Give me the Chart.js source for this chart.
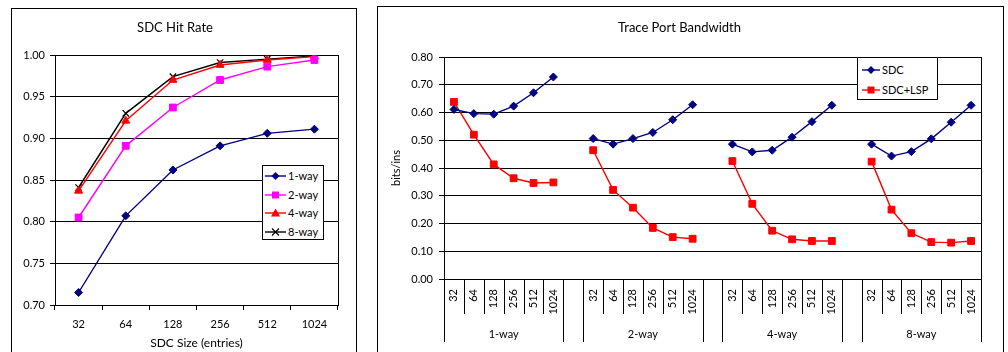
<!DOCTYPE html>
<html><head><meta charset="utf-8">
<script src="https://cdn.jsdelivr.net/npm/chart.js@4"></script>
<style>
html,body{margin:0;padding:0;background:#fff;width:1008px;height:352px;overflow:hidden;font-family:Lato,'Liberation Sans',sans-serif;}
.box{position:absolute;border:1px solid #000;box-sizing:border-box;background:#fff}
.cv{position:absolute}
.legend{position:absolute;border:1px solid #000;background:#fff;box-sizing:border-box;font-size:11px;color:#000}
.legend .row{position:absolute;display:flex;align-items:center;height:12px;white-space:nowrap;line-height:12px}
.legend svg{display:block;margin-right:2px}
</style></head>
<body>
<div class="box" style="left:11px;top:8px;width:346px;height:360px"></div>
<div class="box" style="left:377px;top:6px;width:627px;height:360px"></div>
<div class="cv" style="left:12px;top:9px;width:344px;height:343px"><canvas id="c1"></canvas></div>
<div class="cv" style="left:378px;top:7px;width:625px;height:345px"><canvas id="c2"></canvas></div>
<div id="lg1" class="legend" style="left:262px;top:165px;width:62px;height:75px"></div>
<div id="lg2" class="legend" style="left:857px;top:57px;width:81px;height:43px"></div>
<script>
// ---- data ----
const sizes = ['32','64','128','256','512','1024'];
const ways = ['1-way','2-way','4-way','8-way'];
const hitTitle = 'SDC Hit Rate';
const hit1way = [0.715,0.807,0.862,0.891,0.906,0.911];
const hit2way = [0.805,0.891,0.937,0.970,0.986,0.994];
const hit4way = [0.837,0.921,0.970,0.988,0.994,0.998];
const hit8way = [0.841,0.930,0.974,0.991,0.995,0.999];
const bwTitle = 'Trace Port Bandwidth';
const bwSeries = ['SDC','SDC+LSP'];
const sdc1way = [0.611,0.596,0.594,0.623,0.671,0.728];
const sdc2way = [0.506,0.486,0.506,0.528,0.574,0.628];
const sdc4way = [0.486,0.458,0.464,0.511,0.567,0.626];
const sdc8way = [0.486,0.443,0.459,0.505,0.565,0.626];
const lsp1way = [0.638,0.520,0.413,0.363,0.346,0.348];
const lsp2way = [0.464,0.321,0.257,0.184,0.151,0.145];
const lsp4way = [0.425,0.271,0.174,0.143,0.137,0.137];
const lsp8way = [0.423,0.250,0.165,0.133,0.131,0.137];

// ---- build grouped category data (blank slot between groups) ----
function grouped(arrs){ const out=[]; arrs.forEach((a,i)=>{ out.push(...a); if(i<arrs.length-1) out.push(null);}); return out; }
const bwLabels = grouped(ways.map(()=>sizes)).map(v=>v===null?'':v);
const sdcData = grouped([sdc1way,sdc2way,sdc4way,sdc8way]);
const lspData = grouped([lsp1way,lsp2way,lsp4way,lsp8way]);

Chart.defaults.font.family = "Lato, 'Liberation Sans', sans-serif";
Chart.defaults.font.size = 11;
Chart.defaults.color = '#000';

const frame = { id:'frame', afterDraw(chart){ const a=chart.chartArea, c=chart.ctx; c.save(); c.strokeStyle='#000'; c.lineWidth=1; const x=Math.round(a.right)+0.5; c.beginPath(); c.moveTo(x,Math.round(a.top)); c.lineTo(x,Math.round(a.bottom)); c.stroke(); c.restore(); } };

const groupAxis = { id:'groupAxis', afterDraw(chart, args, opts){
  const xs=chart.scales.x, c=chart.ctx, y0=Math.round(xs.top);
  const half=(xs.getPixelForValue(1)-xs.getPixelForValue(0))/2;
  c.save(); c.strokeStyle='#000'; c.lineWidth=1; c.fillStyle='#000';
  c.font = "11px Lato, 'Liberation Sans', sans-serif"; c.textAlign='center'; c.textBaseline='middle';
  const vline=(x,len)=>{ const px=Math.round(x)+0.5; c.beginPath(); c.moveTo(px,y0); c.lineTo(px,y0+len); c.stroke(); };
  ways.forEach((w,g)=>{
    const s=g*(sizes.length+1), e=s+sizes.length-1;
    vline(xs.getPixelForValue(s)-half, opts.longLen);
    vline(xs.getPixelForValue(e)+half, opts.longLen);
    for(let k=s;k<e;k++) vline(xs.getPixelForValue(k)+half, opts.shortLen);
    c.fillText(w,(xs.getPixelForValue(s)+xs.getPixelForValue(e))/2, y0+opts.labelY);
  });
  c.restore();
}};

const hitSets = [
  {label:'1-way',data:hit1way,color:'#000080',shape:'rectRot',r:4},
  {label:'2-way',data:hit2way,color:'#FF00FF',shape:'rect',r:4.8},
  {label:'4-way',data:hit4way,color:'#FF0000',shape:'triangle',r:4.6},
  {label:'8-way',data:hit8way,color:'#000000',shape:'crossRot',r:4.5}
];
const bwSets = [
  {label:bwSeries[0],data:sdcData,color:'#000080',shape:'rectRot',r:4},
  {label:bwSeries[1],data:lspData,color:'#FF0000',shape:'rect',r:4.8}
];
function ds(s){ return {label:s.label,data:s.data,borderColor:s.color,backgroundColor:s.color,pointBackgroundColor:s.color,pointBorderColor:s.color,pointStyle:s.shape,pointRadius:s.r,pointBorderWidth:s.shape==='crossRot'?1.2:1,borderWidth:1.4,spanGaps:false,tension:0}; }

new Chart(document.getElementById('c1'),{
  type:'line',
  data:{labels:sizes,datasets:hitSets.map(ds)},
  options:{responsive:true,maintainAspectRatio:false,animation:false,events:[],
    layout:{padding:{left:0,right:18,top:0,bottom:0}},
    plugins:{legend:{display:false},tooltip:{enabled:false},
      title:{display:true,text:hitTitle,color:'#000',font:{size:13,weight:'normal'},padding:{top:11.2,bottom:19.2}}},
    scales:{
      x:{offset:true,grid:{display:true,drawOnChartArea:false,drawTicks:true,tickLength:5,offset:true,color:'#000'},border:{display:true,color:'#000'},
         ticks:{padding:8,color:'#000'},title:{display:true,text:'SDC Size (entries)',color:'#000',font:{size:12},padding:{top:0,bottom:1.8}},
         afterFit(s){s.height=47;}},
      y:{min:0.7,max:1.0,ticks:{stepSize:0.05,callback:v=>v.toFixed(2),padding:5,color:'#000'},grid:{color:'#000',tickLength:5},border:{color:'#000'},
         afterFit(s){s.width=43;}}
    }},
  plugins:[frame]
});

new Chart(document.getElementById('c2'),{
  type:'line',
  data:{labels:bwLabels,datasets:bwSets.map(ds)},
  options:{responsive:true,maintainAspectRatio:false,animation:false,events:[],
    layout:{padding:{left:0,right:22,top:0,bottom:0}},
    plugins:{legend:{display:false},tooltip:{enabled:false},
      title:{display:true,text:bwTitle,color:'#000',font:{size:13,weight:'normal'},padding:{top:13.2,bottom:21.2}},
      groupAxis:{shortLen:35,longLen:63,labelY:55}},
    scales:{
      x:{offset:true,grid:{display:false,drawTicks:false},border:{display:true,color:'#000'},
         ticks:{padding:10,color:'#000',minRotation:90,maxRotation:90,autoSkip:false},
         afterFit(s){s.height=73;}},
      y:{min:0,max:0.8,ticks:{stepSize:0.1,callback:v=>v.toFixed(2),padding:6,color:'#000'},grid:{color:'#000',tickLength:5},border:{color:'#000'},
         title:{display:true,text:'bits/ins',color:'#000',font:{size:11},padding:{top:11.4,bottom:0}},
         afterFit(s){s.width=66;}}
    }},
  plugins:[frame,groupAxis]
});

// ---- legends (HTML) ----
function markerSVG(shape,color,w){
  const m=w/2; let mk='';
  if(shape==='rectRot') mk=`<polygon points="${m},2 ${m+4},6 ${m},10 ${m-4},6" fill="${color}"/>`;
  else if(shape==='rect') mk=`<rect x="${m-3.5}" y="2.5" width="7" height="7" fill="${color}"/>`;
  else if(shape==='triangle') mk=`<polygon points="${m},1.5 ${m+4.5},9.5 ${m-4.5},9.5" fill="${color}"/>`;
  else if(shape==='crossRot') mk=`<path d="M${m-3.5},2.5 L${m+3.5},9.5 M${m+3.5},2.5 L${m-3.5},9.5" stroke="${color}" stroke-width="1.2"/>`;
  return `<svg width="${w}" height="12"><line x1="0" y1="6" x2="${w}" y2="6" stroke="${color}" stroke-width="1.4"/>${mk}</svg>`;
}
function buildLegend(id,sets,left,tops,w){
  const el=document.getElementById(id);
  sets.forEach((s,i)=>{ const r=document.createElement('div'); r.className='row'; r.style.left=left+'px'; r.style.top=tops[i]+'px';
    r.innerHTML=markerSVG(s.shape,s.color,w)+'<span>'+s.label+'</span>'; el.appendChild(r); });
}
buildLegend('lg1',hitSets,2,[4,22.5,41,59.5],21);
buildLegend('lg2',bwSets,4,[6,26],18);
</script>
</body></html>
